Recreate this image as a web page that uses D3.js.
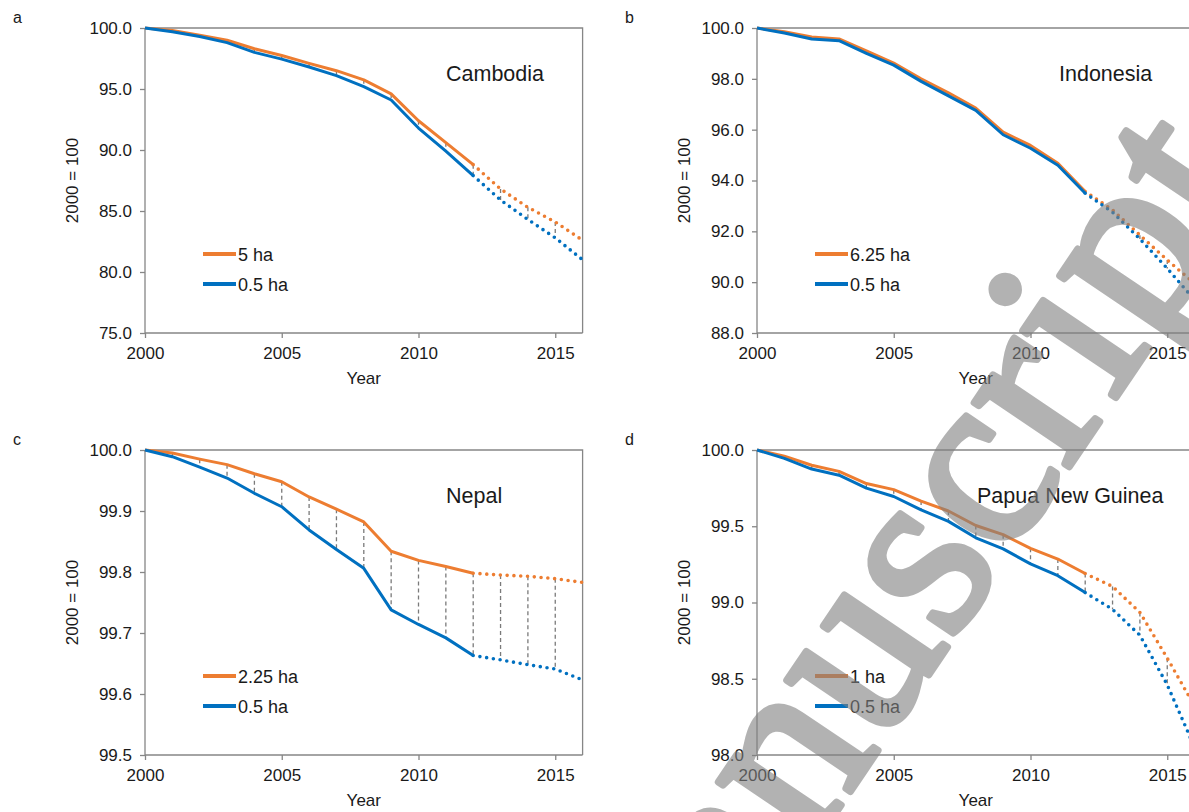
<!DOCTYPE html>
<html>
<head>
<meta charset="utf-8">
<script src="https://cdn.jsdelivr.net/npm/d3@7"></script>
<style>
  body { margin: 0; background: #fff; }
  svg { display: block; font-family: "Liberation Sans", Arial, sans-serif; }
  .tick text { fill: #1a1a1a; font-size: 17px; }
  .domain, .tick line { stroke: #868686; stroke-width: 1.3px; }
</style>
</head>
<body>
<div id="fig"></div>
<script>
// years on the x axis, solid up to 2012 then dotted projection
var years = [2000, 2001, 2002, 2003, 2004, 2005, 2006, 2007, 2008, 2009, 2010, 2011, 2012, 2013, 2014, 2015, 2016];
var xTickValues = [2000, 2005, 2010, 2015];

// a - Cambodia
var cambodiaLarge = [100.0, 99.8, 99.4, 99.0, 98.3, 97.75, 97.1, 96.5, 95.75, 94.6, 92.4, 90.6, 88.8, 86.8, 85.3, 84.1, 82.6];
var cambodiaSmall = [100.0, 99.7, 99.3, 98.8, 98.0, 97.45, 96.8, 96.1, 95.2, 94.1, 91.8, 89.9, 87.9, 85.9, 84.3, 82.8, 81.0];
var cambodiaTicks = [75, 80, 85, 90, 95, 100];

// b - Indonesia
var indonesiaLarge = [100.0, 99.85, 99.65, 99.57, 99.1, 98.62, 98.0, 97.45, 96.85, 95.9, 95.38, 94.68, 93.57, 92.84, 91.85, 90.87, 89.95];
var indonesiaSmall = [100.0, 99.8, 99.57, 99.5, 99.0, 98.54, 97.9, 97.33, 96.76, 95.8, 95.27, 94.6, 93.5, 92.75, 91.7, 90.54, 89.3];
var indonesiaTicks = [88, 90, 92, 94, 96, 98, 100];

// c - Nepal
var nepalLarge = [100.0, 99.995, 99.985, 99.976, 99.961, 99.948, 99.923, 99.903, 99.882, 99.834, 99.819, 99.809, 99.798, 99.795, 99.793, 99.789, 99.783];
var nepalSmall = [100.0, 99.989, 99.972, 99.954, 99.929, 99.907, 99.869, 99.837, 99.806, 99.738, 99.714, 99.692, 99.663, 99.656, 99.648, 99.641, 99.623];
var nepalTicks = [99.5, 99.6, 99.7, 99.8, 99.9, 100];

// d - Papua New Guinea
var pngLarge = [100.0, 99.96, 99.9, 99.86, 99.78, 99.74, 99.665, 99.6, 99.505, 99.445, 99.355, 99.285, 99.19, 99.105, 98.935, 98.635, 98.32];
var pngSmall = [100.0, 99.945, 99.875, 99.835, 99.75, 99.695, 99.607, 99.532, 99.424, 99.352, 99.253, 99.176, 99.065, 98.955, 98.785, 98.46, 98.05];
var pngTicks = [98, 98.5, 99, 99.5, 100];

var fig = {};
fig.orange = '#ED7D31';
fig.blue = '#0070C0';
fig.lastObserved = 2012;
fig.width = 1189;
fig.height = 812;

// one object per panel, layout + the arrays above
fig.panels = [
  {letter: 'a', country: 'Cambodia', left: 145, top: 28, large: cambodiaLarge, small: cambodiaSmall,
   ticks: cambodiaTicks, largeLabel: '5 ha', countryX: 446},
  {letter: 'b', country: 'Indonesia', left: 757, top: 28, large: indonesiaLarge, small: indonesiaSmall,
   ticks: indonesiaTicks, largeLabel: '6.25 ha', countryX: 1059},
  {letter: 'c', country: 'Nepal', left: 145, top: 450, large: nepalLarge, small: nepalSmall,
   ticks: nepalTicks, largeLabel: '2.25 ha', countryX: 446},
  {letter: 'd', country: 'Papua New Guinea', left: 757, top: 450, large: pngLarge, small: pngSmall,
   ticks: pngTicks, largeLabel: '1 ha', countryX: 977}
];
fig.plotW = 437.6;
fig.plotH = 305;

fig.svg = d3.select('#fig').append('svg')
  .attr('width', fig.width)
  .attr('height', fig.height);

// draw one panel : axes, border, drop lines, series, legend, labels
fig.drawPanel = function(p) {
  var g = fig.svg.append('g').attr('transform', 'translate(' + p.left + ',' + p.top + ')');
  var x = d3.scaleLinear().domain([years[0], years[years.length - 1]]).range([0, fig.plotW]);
  var y = d3.scaleLinear().domain(d3.extent(p.ticks)).range([fig.plotH, 0]);

  // plot area border (top and right)
  g.append('path')
    .attr('d', 'M0,0H' + fig.plotW + 'V' + fig.plotH)
    .attr('fill', 'none').attr('stroke', '#868686').attr('stroke-width', 1.3);

  g.append('g').attr('class', 'axis')
    .call(d3.axisLeft(y).tickValues(p.ticks).tickSize(5).tickPadding(8).tickFormat(d3.format('.1f')))
    .call(function(a){ a.select('.domain').attr('d', 'M0,0V' + fig.plotH); });

  g.append('g').attr('class', 'axis')
    .attr('transform', 'translate(0,' + fig.plotH + ')')
    .call(d3.axisBottom(x).tickValues(xTickValues).tickSize(5).tickPadding(9).tickFormat(d3.format('d')))
    .call(function(a){ a.select('.domain').attr('d', 'M0,0H' + fig.plotW); });

  var rows = years.map(function(yr, i){ return {year: yr, large: p.large[i], small: p.small[i]}; });

  // grey dashed drop lines between the two series
  g.selectAll('.drop').data(rows.filter(function(d){ return d.year > years[0] && d.year < years[years.length - 1]; }))
    .enter().append('line')
    .attr('class', 'drop')
    .attr('x1', function(d){ return x(d.year); })
    .attr('x2', function(d){ return x(d.year); })
    .attr('y1', function(d){ return y(d.large); })
    .attr('y2', function(d){ return y(d.small); })
    .attr('stroke', '#7a7a7a').attr('stroke-width', 1.3).attr('stroke-dasharray', '4,3');

  var series = [{key: 'large', color: fig.orange}, {key: 'small', color: fig.blue}];
  series.forEach(function(s){
    var line = d3.line().x(function(d){ return x(d.year); }).y(function(d){ return y(d[s.key]); });
    g.append('path')
      .datum(rows.filter(function(d){ return d.year <= fig.lastObserved; }))
      .attr('d', line)
      .attr('fill', 'none').attr('stroke', s.color).attr('stroke-width', 3)
      .attr('stroke-linejoin', 'round');
    g.append('path')
      .datum(rows.filter(function(d){ return d.year >= fig.lastObserved; }))
      .attr('d', line)
      .attr('fill', 'none').attr('stroke', s.color).attr('stroke-width', 3.6)
      .attr('stroke-linecap', 'round').attr('stroke-dasharray', '0,6.8');
  });

  // legend
  var legend = [{label: p.largeLabel, color: fig.orange}, {label: '0.5 ha', color: fig.blue}];
  var lg = g.selectAll('.legend').data(legend).enter().append('g')
    .attr('transform', function(d, i){ return 'translate(58,' + (226 + i * 30) + ')'; });
  lg.append('line').attr('x1', 0).attr('x2', 33).attr('y1', 0).attr('y2', 0)
    .attr('stroke', function(d){ return d.color; }).attr('stroke-width', 4);
  lg.append('text').attr('x', 35).attr('y', 6.5)
    .attr('font-size', 18).attr('fill', '#1a1a1a')
    .text(function(d){ return d.label; });

  g.append('text')
    .attr('x', p.countryX - p.left).attr('y', 52.5)
    .attr('font-size', 21.5).attr('fill', '#1a1a1a')
    .text(p.country);

  g.append('text')
    .attr('transform', 'translate(-67,' + (fig.plotH / 2) + ') rotate(-90)')
    .attr('text-anchor', 'middle').attr('font-size', 17).attr('fill', '#1a1a1a')
    .text('2000 = 100');

  g.append('text')
    .attr('x', fig.plotW / 2).attr('y', fig.plotH + 51)
    .attr('text-anchor', 'middle').attr('font-size', 17).attr('fill', '#1a1a1a')
    .text('Year');

  fig.svg.append('text')
    .attr('x', p.left - 132).attr('y', p.top - 5)
    .attr('font-size', 16).attr('fill', '#1a1a1a')
    .text(p.letter);
};

fig.panels.forEach(fig.drawPanel);

// grey manuscript watermark over the figure, placed from the dot of the i
fig.drawWatermark = function() {
  var angle = -56, size = 250;
  var iOrigin = [1113, 402];
  var wm = fig.svg.append('g')
    .attr('opacity', 0.6)
    .attr('transform', 'translate(' + iOrigin[0] + ',' + iOrigin[1] + ') rotate(' + angle + ')');
  var probe = wm.append('text').attr('font-family', '"Liberation Serif", serif').attr('font-size', size)
    .text('Accepted Manuscr');
  var offset = probe.node().getComputedTextLength();
  probe.remove();
  wm.append('text')
    .attr('x', -offset)
    .attr('font-family', '"Liberation Serif", serif').attr('font-size', size)
    .attr('fill', '#808080').attr('stroke', '#808080').attr('stroke-width', 7)
    .attr('stroke-linejoin', 'round')
    .text('Accepted Manuscript');
};
fig.drawWatermark();
</script>
</body>
</html>
